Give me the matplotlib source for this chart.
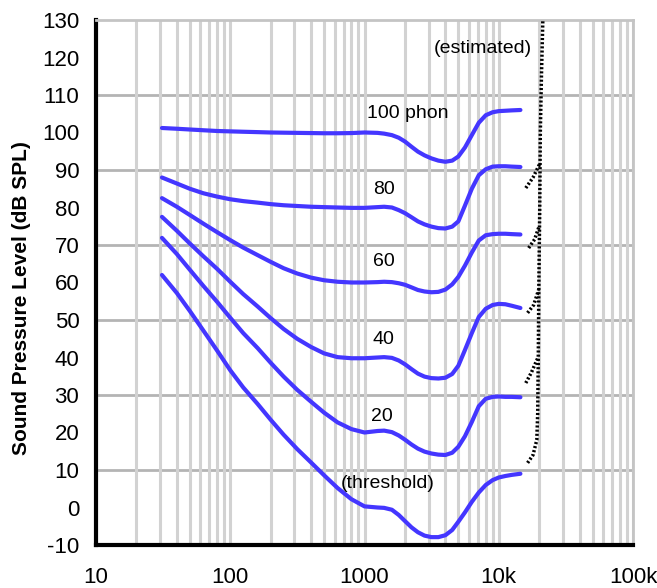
import numpy as np
import matplotlib.pyplot as plt

plt.rcParams['font.family'] = ['Liberation Sans', 'DejaVu Sans']

# frequencies (Hz)
freqs = [31, 40, 50, 63, 80, 100, 125, 160, 200, 250, 315, 400, 500, 630, 800,
         1000, 1250, 1400, 1600, 1800, 2000, 2240, 2500, 2800, 3150, 3550, 4000, 4500,
         5000, 5600, 6300, 7100, 8000, 9000, 10000, 11200, 12500, 14500]

phon_100 = [101.2, 101.0, 100.8, 100.6, 100.4, 100.3, 100.2, 100.1, 100.0, 99.95, 99.9, 99.85, 99.8, 99.8, 99.85,
            100.0, 99.9, 99.7, 99.3, 98.6, 97.6, 96.2, 94.9, 93.9, 93.1, 92.5, 92.2, 92.5,
            93.6, 96.0, 99.3, 102.6, 104.6, 105.4, 105.7, 105.8, 105.9, 106.0]
phon_80 = [88.0, 86.4, 85.0, 83.8, 82.9, 82.2, 81.7, 81.3, 80.9, 80.6, 80.4, 80.2, 80.1, 80.0, 79.9,
           79.9, 80.1, 80.2, 80.0, 79.3, 78.5, 77.4, 76.3, 75.5, 74.9, 74.5, 74.4, 74.9,
           76.3, 80.5, 85.0, 88.6, 90.2, 90.9, 91.0, 91.0, 90.9, 90.8]
phon_60 = [82.5, 80.2, 78.0, 75.7, 73.4, 71.3, 69.3, 67.3, 65.5, 63.8, 62.4, 61.3, 60.6, 60.2, 60.0,
           60.0, 60.1, 60.2, 60.1, 59.8, 59.4, 58.7, 58.0, 57.6, 57.4, 57.5, 58.1, 59.5,
           61.5, 64.5, 68.0, 71.2, 72.6, 72.9, 73.0, 73.0, 72.9, 72.8]
phon_40 = [77.5, 73.8, 70.4, 67.0, 63.6, 60.2, 56.9, 53.6, 50.5, 47.6, 45.0, 42.8, 41.1, 40.1, 39.8,
           39.8, 40.0, 40.1, 39.9, 39.2, 38.2, 36.9, 35.7, 34.9, 34.5, 34.4, 34.6, 35.6,
           37.8, 42.0, 46.5, 50.8, 53.0, 54.0, 54.3, 54.2, 53.8, 53.2]
phon_20 = [71.9, 67.6, 63.4, 59.1, 54.8, 50.6, 46.5, 42.5, 38.6, 34.9, 31.4, 28.2, 25.3, 22.7, 20.9,
           20.0, 20.4, 20.5, 20.1, 19.2, 18.1, 16.8, 15.7, 14.9, 14.4, 14.1, 14.0, 14.6,
           16.2, 19.0, 22.8, 27.0, 29.0, 29.5, 29.6, 29.5, 29.5, 29.4]
threshold = [62.0, 57.2, 52.4, 47.2, 41.8, 36.6, 32.0, 27.6, 23.4, 19.4, 15.6, 12.0, 8.6, 5.2, 2.2,
             0.3, 0.0, -0.1, -0.6, -2.0, -3.6, -5.3, -6.6, -7.5, -7.9, -7.9, -7.4, -6.0,
             -3.8, -1.3, 1.5, 4.0, 6.0, 7.3, 8.0, 8.4, 8.7, 9.0]

curves = [phon_100, phon_80, phon_60, phon_40, phon_20, threshold]

# dotted "estimated" upper limit and the small hooks joining it
est_freq = [16400, 18000, 19200, 19500, 19700, 19900, 20200, 20400, 20800, 21300]
est_db = [11.9, 14.0, 18.0, 25.0, 40.0, 60.0, 80.0, 100.0, 115.0, 130.0]
hook_freqs = [[15900, 17500, 19600], [16400, 18200, 19800], [16700, 18500, 20000], [15900, 18000, 20100]]
hook_dbs = [[33.2, 36.0, 40.0], [51.9, 54.0, 58.0], [69.2, 71.5, 75.0], [85.2, 88.0, 91.5]]

labels = ['100 phon', '80', '60', '40', '20', '(threshold)', '(estimated)']
label_freqs = [2094, 1393, 1393, 1393, 1355, 1493, 7550]
label_dbs = [105.2, 84.7, 65.5, 44.7, 24.2, 6.4, 122.4]

yticks = list(range(-10, 131, 10))
grid_db = [10, 30, 50, 70, 90, 110]
xticks = [10, 100, 1000, 10000, 100000]
xticklabels = ['10', '100', '1000', '10k', '100k']

fig = plt.figure(figsize=(6.57, 5.88), dpi=100)
ax = fig.add_axes([96 / 657, 1 - 545 / 588, 537 / 657, 525 / 588])

ax.set_xscale('log')
ax.set_xlim(10, 100000)
ax.set_ylim(-10, 130)

ax.xaxis.grid(True, which='both', color='#d2d2d2', linewidth=2.2, zorder=0)
for level in grid_db:
    ax.axhline(level, color='#b4b4b4', linewidth=2, zorder=0.5)

for c in curves:
    ax.plot(freqs, c, color='#4436ff', linewidth=3, solid_capstyle='round',
            solid_joinstyle='round', zorder=3)

ax.plot(est_freq, est_db, color='black', linestyle=(0, (0.6, 0.6)), linewidth=2.5, zorder=3)
for hf, hd in zip(hook_freqs, hook_dbs):
    ax.plot(hf, hd, color='black', linestyle=(0, (0.6, 0.6)), linewidth=2.5, zorder=3)

for txt, f, d in zip(labels, label_freqs, label_dbs):
    ax.text(f, d, txt, fontsize=14, ha='center', va='center', zorder=4)

ax.set_yticks(yticks)
ax.set_yticklabels([str(v) for v in yticks])
ax.set_xticks(xticks)
ax.set_xticklabels(xticklabels)
ax.xaxis.set_minor_formatter(plt.NullFormatter())
ax.tick_params(axis='both', which='both', length=0, labelsize=16)
ax.tick_params(axis='y', pad=12)
ax.tick_params(axis='x', pad=16)

ax.spines['left'].set_linewidth(3)
ax.spines['bottom'].set_linewidth(3)
ax.spines['top'].set_color('#c4c4c4')
ax.spines['right'].set_color('#c4c4c4')
ax.spines['top'].set_linewidth(2)
ax.spines['right'].set_linewidth(2)

fig.text(22 / 657, 1 - 298 / 588, 'Sound Pressure Level (dB SPL)', rotation=90,
         ha='center', va='center', fontsize=15, fontweight='bold')

plt.savefig('out.png', dpi=100)
